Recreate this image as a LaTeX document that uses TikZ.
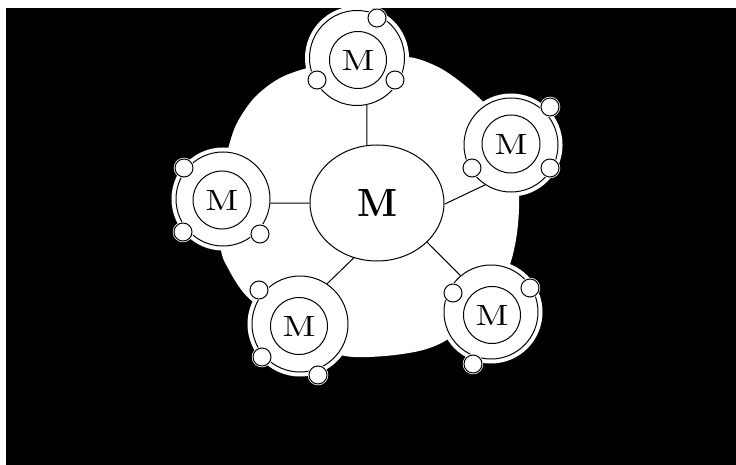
\documentclass[tikz,border=0pt]{standalone}
\usetikzlibrary{shapes.geometric}
\usepackage{graphicx}
\begin{document}
\begin{tikzpicture}[x=1pt,y=-1pt,line width=1pt,
  outerring/.style={circle, draw, fill=white, inner sep=0pt, minimum size=#1,
    preaction={draw=white, line width=9pt}},
  bead/.style={circle, draw, fill=white, inner sep=0pt, minimum size=18pt,
    preaction={draw=white, line width=2.5pt}},
  core/.style={circle, draw, inner sep=0pt, minimum size=#1},
  link/.style={draw, line width=1pt}]
\useasboundingbox (0,0) rectangle (736,465);
\fill[white] (0,0) rectangle (736,465);
\fill[black] (6,8) rectangle (736,465);
% white blob
\fill[white] plot[smooth cycle] coordinates {
 (365,62) (408,57) (440,68) (468,88) (490,110) (512,150) (519,193) (517,233)
 (509,267) (490,300) (451,337) (423,350) (385,356) (345,356) (300,340)
 (253,302) (240,288) (229,270) (221,250) (220,200) (226,158) (236,125)
 (255,97) (282,77) (320,65)};
% central node
\node[ellipse, draw, fill=white, minimum width=134pt, minimum height=116pt, inner sep=0pt] (c) at (377,203)
  {\resizebox{40pt}{27pt}{\textbf{M}}};
% top satellite
\node[outerring=95pt] (t) at (357,58) {};
\node[bead] (t1) at (377,18) {};
\node[bead] (t2) at (317,80) {};
\node[bead] (t3) at (395,80) {};
\node[core=57pt] (ti) at (358,60) {\resizebox{33pt}{20pt}{M}};
% left satellite
\node[outerring=94pt] (l) at (223,199) {};
\node[bead] (l1) at (184,168) {};
\node[bead] (l2) at (183,232) {};
\node[bead] (l3) at (260,234) {};
\node[core=58pt] (li) at (222,200) {\resizebox{33pt}{20pt}{M}};
% right satellite
\node[outerring=94pt] (r) at (511,145) {};
\node[bead] (r1) at (550,107) {};
\node[bead] (r2) at (472,168) {};
\node[bead] (r3) at (550,168) {};
\node[core=58pt] (ri) at (511,144) {\resizebox{33pt}{20pt}{M}};
% bottom-left satellite
\node[outerring=96pt] (bl) at (300,324) {};
\node[bead] (bl1) at (259,290) {};
\node[bead] (bl2) at (262,357) {};
\node[bead] (bl3) at (318,375) {};
\node[core=57pt] (bli) at (299,326) {\resizebox{33pt}{20pt}{M}};
% bottom-right satellite
\node[outerring=94pt] (br) at (491,312) {};
\node[bead] (br1) at (530,288) {};
\node[bead] (br2) at (453,293) {};
\node[bead] (br3) at (473,364) {};
\node[core=57pt] (bri) at (492,315) {\resizebox{33pt}{20pt}{M}};
% connectors
\draw[link] (c.100) -- (t.-78);
\draw[link] (c.180) -- (l.-5);
\draw[link] (c.-1) -- (r.237);
\draw[link] (c.247) -- (bl.56);
\draw[link] (c.-38) -- (br.130);
\end{tikzpicture}
\end{document}
